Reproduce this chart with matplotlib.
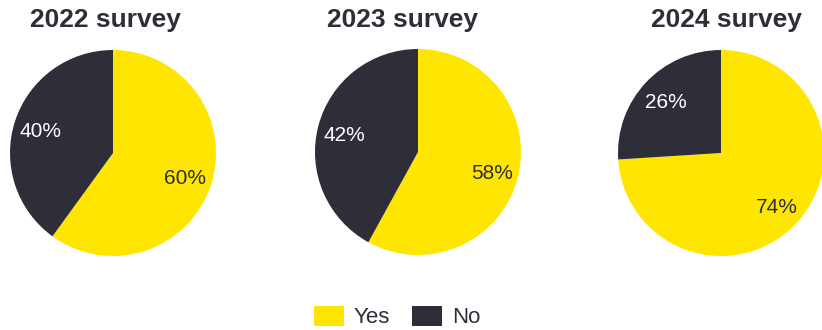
import matplotlib
matplotlib.use("Agg")
import matplotlib.pyplot as plt
from matplotlib.patches import Patch

plt.rcParams['font.family'] = ['Liberation Sans', 'DejaVu Sans']

surveys = ["2022 survey", "2023 survey", "2024 survey"]
categories = ["Yes", "No"]
yes_values = [60, 58, 74]
no_values = [40, 42, 26]

YELLOW = "#FFE600"
DARK = "#2E2E38"
colors = [YELLOW, DARK]

W, H = 822, 330
fig = plt.figure(figsize=(W / 100, H / 100), dpi=100)

# pie centres (px) and radius (px)
centers = [(113, 153), (418, 152), (721, 153)]
radius = 103
title_x = [105, 402, 726]

for i, name in enumerate(surveys):
    cx, cy = centers[i]
    ax = fig.add_axes([(cx - radius) / W, (H - cy - radius) / H,
                       2 * radius / W, 2 * radius / H])
    vals = [yes_values[i], no_values[i]]
    wedges, texts, autotexts = ax.pie(
        vals, colors=colors, startangle=90, counterclock=False,
        radius=1, autopct="%d%%", pctdistance=0.74,
        wedgeprops=dict(linewidth=0),
        textprops=dict(fontsize=15))
    autotexts[0].set_color(DARK)
    autotexts[1].set_color("white")
    for t in autotexts:
        x, y = t.get_position()
        t.set_position((x, y - 0.02))
    ax.set_xlim(-1, 1)
    ax.set_ylim(-1, 1)
    ax.set_aspect("equal")
    ax.axis("off")
    fig.text(title_x[i] / W, 1 - 20 / H, name, ha="center", va="center",
             fontsize=19, fontweight="bold", color=DARK)

handles = [Patch(facecolor=c, edgecolor="none") for c in colors]
fig.legend(handles, categories, loc="center", bbox_to_anchor=(397 / W, 1 - 317 / H),
           ncol=2, frameon=False, fontsize=16, handlelength=1.35, handleheight=1.05,
           handletextpad=0.45, columnspacing=1.0, labelcolor=DARK)

fig.savefig("out.png", dpi=100, facecolor="white")
